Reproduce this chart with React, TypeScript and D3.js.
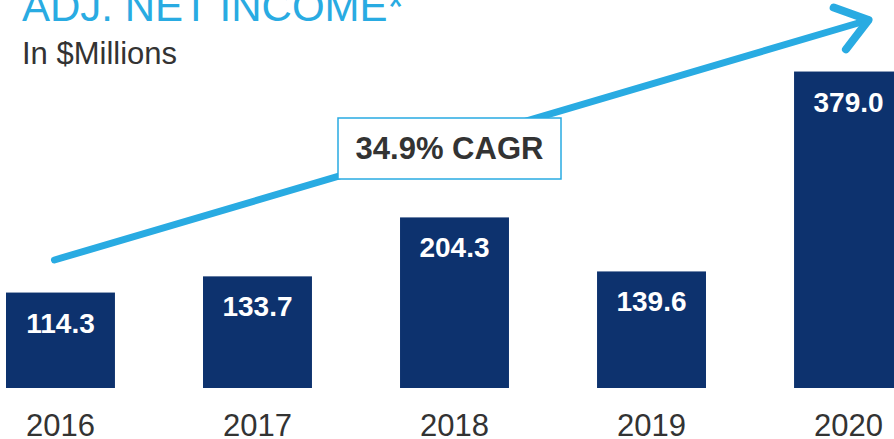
import React, { useRef, useEffect } from 'react'
import * as d3 from 'd3'

const years = ['2016', '2017', '2018', '2019', '2020']
const netIncome = [114.3, 133.7, 204.3, 139.6, 379.0]
const cagrLabel = '34.9% CAGR'
const title = 'ADJ. NET INCOME*'
const subtitle = 'In $Millions'

const W = 894
const H = 439
const navy = '#0d326e'
const skyBlue = '#29abe2'
const font = "'Liberation Sans', Arial, sans-serif"

export default function App() {
  const ref = useRef<SVGSVGElement>(null)

  useEffect(() => {
    const svg = d3.select(ref.current)
    svg.selectAll('*').remove()

    const x = d3.scaleBand().domain(years).range([6, 903]).paddingInner(0.447).paddingOuter(0)
    const y = d3.scaleLinear().domain([0, 400]).range([388, 54])

    // title
    svg.append('text').attr('x', 22).attr('y', 21)
      .attr('font-family', font).attr('font-size', 42).attr('fill', skyBlue)
      .text(title)
    svg.append('text').attr('x', 22).attr('y', 64)
      .attr('font-family', font).attr('font-size', 31).attr('fill', '#333')
      .text(subtitle)

    // bars
    const g = svg.append('g')
    g.selectAll('rect').data(netIncome).enter().append('rect')
      .attr('x', (d, i) => x(years[i])!)
      .attr('y', d => y(d))
      .attr('width', x.bandwidth())
      .attr('height', d => y(0) - y(d))
      .attr('fill', navy)

    g.selectAll('text.val').data(netIncome).enter().append('text')
      .attr('class', 'val')
      .attr('x', (d, i) => x(years[i])! + x.bandwidth() / 2)
      .attr('y', d => y(d) + 40)
      .attr('text-anchor', 'middle')
      .attr('font-family', font).attr('font-weight', 'bold').attr('font-size', 28)
      .attr('fill', '#fff')
      .text(d => d.toFixed(1))

    g.selectAll('text.yr').data(years).enter().append('text')
      .attr('class', 'yr')
      .attr('x', d => x(d)! + x.bandwidth() / 2)
      .attr('y', 436)
      .attr('text-anchor', 'middle')
      .attr('font-family', font).attr('font-size', 31)
      .attr('fill', '#333')
      .text(d => d)

    // growth arrow
    const x0 = x(years[0])! + x.bandwidth() / 2 - 6
    const x1 = x(years[years.length - 1])! + x.bandwidth() / 2 + 20
    const p0: [number, number] = [x0, 260]
    const p1: [number, number] = [x1, 20]
    const ang = Math.atan2(p0[1] - p1[1], p0[0] - p1[0])
    const headLen = 37
    const spread = (36 * Math.PI) / 180
    const arm = (a: number): [number, number] => [p1[0] + headLen * Math.cos(a), p1[1] + headLen * Math.sin(a)]
    const arrow = d3.line()
    svg.append('path').attr('d', arrow([p0, p1]))
      .attr('stroke', skyBlue).attr('stroke-width', 7).attr('stroke-linecap', 'round').attr('fill', 'none')
    svg.append('path').attr('d', arrow([arm(ang + spread), p1, arm(ang - spread)]))
      .attr('stroke', skyBlue).attr('stroke-width', 8).attr('stroke-linecap', 'round')
      .attr('stroke-linejoin', 'round').attr('fill', 'none')

    // CAGR box
    svg.append('rect').attr('x', 338).attr('y', 118).attr('width', 223).attr('height', 61)
      .attr('fill', '#fff').attr('stroke', skyBlue).attr('stroke-width', 1.5)
    svg.append('text').attr('x', 449.5).attr('y', 159)
      .attr('text-anchor', 'middle')
      .attr('font-family', font).attr('font-weight', 'bold').attr('font-size', 31).attr('fill', '#333')
      .text(cagrLabel)
  }, [])

  return (
    <div style={{ position: 'absolute', left: 0, top: 0, width: W, height: H, overflow: 'hidden', background: '#fff' }}>
      <svg ref={ref} width={W} height={H} style={{ display: 'block' }} />
    </div>
  )
}
